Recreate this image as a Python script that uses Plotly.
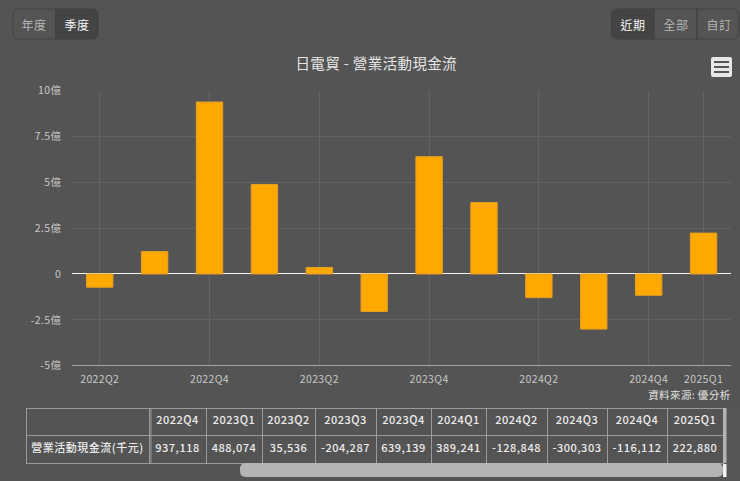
"""Operating cash flow by quarter, dark theme, with a small table under the chart."""
import plotly.graph_objects as go

W, H = 740, 481
BG = "#545454"
FONT = "Noto Sans CJK TC"

quarters = ["2022Q2", "2022Q3", "2022Q4", "2023Q1", "2023Q2", "2023Q3",
            "2023Q4", "2024Q1", "2024Q2", "2024Q3", "2024Q4", "2025Q1"]
cash_flow = [-72000, 122000, 937118, 488074, 35536, -204287,
             639139, 389241, -128848, -300303, -116112, 222880]  # thousand NTD

x_ticks = ["2022Q2", "2022Q4", "2023Q2", "2023Q4", "2024Q2", "2024Q4", "2025Q1"]
y_ticks = [-500000, -250000, 0, 250000, 500000, 750000, 1000000]
y_labels = ["-5億", "-2.5億", "0", "2.5億", "5億", "7.5億", "10億"]

table_quarters = quarters[2:]
table_label = "營業活動現金流(千元)"
col_edges = [26, 149, 206, 262, 315, 376, 431, 486, 547, 607, 667, 723]


def px(x):
    return x / W


def py(y):
    return 1 - y / H


def rounded(x0, y0, x1, y1, r, left=True, right=True):
    # rounded rectangle path in pixel coords (y down), paper refs
    def P(x, y):
        return f"{px(x):.5f},{py(y):.5f}"
    d = f"M{P(x0 + (r if left else 0), y0)} L{P(x1 - (r if right else 0), y0)} "
    d += f"Q{P(x1, y0)} {P(x1, y0 + r)} L{P(x1, y1 - r)} Q{P(x1, y1)} {P(x1 - r, y1)} " if right else f"L{P(x1, y1)} "
    d += f"L{P(x0 + (r if left else 0), y1)} "
    d += f"Q{P(x0, y1)} {P(x0, y1 - r)} L{P(x0, y0 + r)} Q{P(x0, y0)} {P(x0 + r, y0)} Z" if left else f"L{P(x0, y0)} Z"
    return d


fig = go.Figure()
fig.add_trace(go.Bar(
    x=quarters, y=cash_flow, width=0.48,
    marker=dict(color="#FFA800", line=dict(color="#E8A020", width=1)),
    hoverinfo="x+y", showlegend=False,
))

# table: x domain taken from the column edges
widths = [b - a for a, b in zip(col_edges[:-1], col_edges[1:])]
table_values = [["", table_label]]
for q, v in zip(table_quarters, cash_flow[2:]):
    table_values.append([q, f"{v:,}"])
fig.add_trace(go.Table(
    domain=dict(x=[px(col_edges[0]), px(col_edges[-1])], y=[0, py(408)]),
    columnwidth=widths,
    header=dict(values=[""] * len(widths), height=0, line=dict(width=0),
                fill=dict(color=BG)),
    cells=dict(
        values=table_values, height=27.5,
        align="center",
        line=dict(color="#9a9a9a", width=1),
        fill=dict(color=BG),
        font=dict(family=FONT, size=11, color="#ececec"),
    ),
))

shapes = []
# button groups
for x0, x1, fill, left, right in [
    (13, 55.5, "#545454", True, False), (55.5, 98, "#444444", False, True),
    (611.5, 654, "#444444", True, False), (654, 697, "#545454", False, False),
    (697, 739, "#545454", False, True),
]:
    shapes.append(dict(type="path", xref="paper", yref="paper",
                       path=rounded(x0, 9, x1, 39, 6, left, right),
                       fillcolor=fill, line=dict(color="#404040", width=1)))
# hamburger icon
shapes.append(dict(type="path", xref="paper", yref="paper",
                   path=rounded(711, 57, 732, 77, 2),
                   fillcolor="#e6e6e6", line=dict(width=0)))
for y in (62, 67, 72):
    shapes.append(dict(type="line", xref="paper", yref="paper",
                       x0=px(714), x1=px(729), y0=py(y), y1=py(y),
                       line=dict(color="#555555", width=2)))
# second rule after the table's first column, scrollbars
shapes.append(dict(type="line", xref="paper", yref="paper",
                   x0=px(151), x1=px(151), y0=py(408), y1=py(463),
                   line=dict(color="#9a9a9a", width=1)))
shapes.append(dict(type="path", xref="paper", yref="paper",
                   path=rounded(240, 463, 723, 477, 6),
                   fillcolor="#b4b4b4", line=dict(width=0)))
shapes.append(dict(type="rect", xref="paper", yref="paper",
                   x0=px(723), x1=px(726.5), y0=py(408), y1=py(463),
                   fillcolor="#b4b4b4", line=dict(width=0)))
shapes.append(dict(type="rect", xref="paper", yref="paper",
                   x0=px(723), x1=px(726.5), y0=py(464), y1=py(477),
                   fillcolor="#f2f2f2", line=dict(width=0)))

annotations = []
for label, cx, color in [("年度", 34, "#b4b4b4"), ("季度", 77, "#f5f5f5"),
                         ("近期", 633, "#f5f5f5"), ("全部", 675.5, "#b4b4b4"),
                         ("自訂", 719, "#b4b4b4")]:
    annotations.append(dict(text=label, x=px(cx), y=py(24.5), xref="paper", yref="paper",
                            showarrow=False, xanchor="center", yanchor="middle",
                            font=dict(family=FONT, size=12, color=color)))
annotations.append(dict(text="日電貿 - 營業活動現金流", x=px(376), y=py(62.5),
                        xref="paper", yref="paper", showarrow=False,
                        xanchor="center", yanchor="middle",
                        font=dict(family=FONT, size=14.5, color="#e6e6e6")))
annotations.append(dict(text="資料來源: 優分析", x=px(731), y=py(394),
                        xref="paper", yref="paper", showarrow=False,
                        xanchor="right", yanchor="middle",
                        font=dict(family=FONT, size=10.5, color="#e0e0e0")))

fig.update_layout(
    width=W, height=H,
    margin=dict(l=0, r=0, t=0, b=0, autoexpand=False),
    paper_bgcolor=BG, plot_bgcolor=BG,
    font=dict(family=FONT, color="#c8c8c8", size=10.5),
    bargap=0.5, shapes=shapes, annotations=annotations,
    xaxis=dict(
        domain=[px(72.3), px(731)], type="category", categoryorder="array",
        categoryarray=quarters, range=[-0.5, 11.5],
        tickmode="array", tickvals=x_ticks, ticktext=x_ticks,
        showgrid=True, gridcolor="#646464", gridwidth=1,
        showline=False, zeroline=False, ticks="", ticklabelstandoff=6,
        tickfont=dict(size=10.5, color="#c8c8c8"),
    ),
    yaxis=dict(
        domain=[py(365.7), py(90.5)], range=[-500000, 1000000],
        tickmode="array", tickvals=y_ticks, ticktext=y_labels,
        showgrid=True, gridcolor="#626262", gridwidth=1,
        zeroline=True, zerolinecolor="#f5f5f5", zerolinewidth=1,
        showline=False, ticks="", ticklabelstandoff=10,
        tickfont=dict(size=10.5, color="#c8c8c8"),
    ),
)
# bottom axis rule sits on the -5億 line
fig.add_shape(type="line", xref="x domain", yref="y", x0=0, x1=1,
              y0=y_ticks[0], y1=y_ticks[0], line=dict(color="#d8d8d8", width=1))

css = (".xtick text,.ytick text{letter-spacing:.35px}"
       ".table text{letter-spacing:.5px;font-weight:500!important}"
       ".annotation text{letter-spacing:.4px}")
fig.write_html("out.html", config=dict(displayModeBar=False),
               post_script="document.body.style.margin='0';"
                           f"var s=document.createElement('style');s.textContent='{css}';"
                           "document.head.appendChild(s);")
